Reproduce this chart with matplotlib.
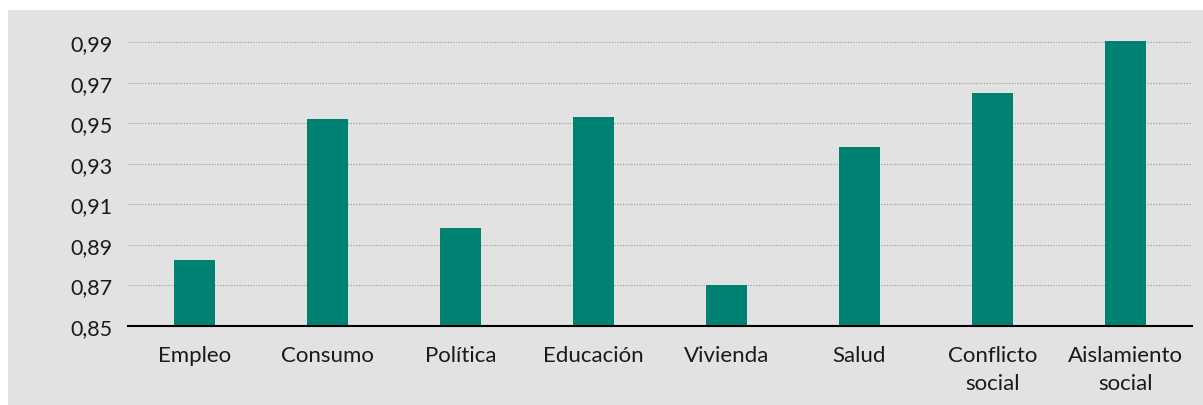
import matplotlib
matplotlib.use("Agg")
import matplotlib.pyplot as plt
from matplotlib.patches import Rectangle
from matplotlib.ticker import FuncFormatter

# data
categories = ["Empleo", "Consumo", "Política", "Educación", "Vivienda", "Salud",
              "Conflicto\nsocial", "Aislamiento\nsocial"]
values = [0.8826, 0.9520, 0.8984, 0.9533, 0.8700, 0.9385, 0.9648, 0.9908]
yticks = [0.85, 0.87, 0.89, 0.91, 0.93, 0.95, 0.97, 0.99]

BG = "#e2e2e2"
BAR = "#008273"

plt.rcParams['font.family'] = ['Lato', 'DejaVu Sans']

fig = plt.figure(figsize=(12.03, 4.06), dpi=100, facecolor="white")
# gray panel behind the chart (white margin top and left)
fig.patches.append(Rectangle((8 / 1203, 0), 1 - 8 / 1203, 1 - 11 / 406,
                             transform=fig.transFigure, facecolor=BG,
                             edgecolor="none", zorder=-10))

ax = fig.add_axes([128 / 1203, 1 - 327 / 406, (1192 - 128) / 1203, (327 - 23) / 406])
ax.set_facecolor("none")

x = range(len(categories))
ax.bar(x, values, width=0.31, color=BAR, zorder=3, bottom=0)

ax.set_xlim(-0.5, 7.5)
ax.set_ylim(0.85, 1.0)
ax.set_yticks(yticks)
ax.yaxis.set_major_formatter(FuncFormatter(lambda v, p: f"{v:.2f}".replace(".", ",")))
ax.set_xticks(list(x))
ax.set_xticklabels(categories, fontsize=16, color="#1a1a1a", linespacing=1.45, va="top")
ax.tick_params(axis="y", length=0, pad=11, labelsize=15.5, labelcolor="#1a1a1a")
ax.tick_params(axis="x", length=0, pad=14)

ax.grid(True, axis="y", linestyle=(0, (1, 1.5)), color="#9a9a9a", linewidth=0.8, zorder=1)
for side in ["top", "right", "left"]:
    ax.spines[side].set_visible(False)
ax.spines["bottom"].set_color("black")
ax.spines["bottom"].set_linewidth(1.5)
ax.spines["bottom"].set_zorder(4)

fig.savefig("out.png", dpi=100, facecolor="white")
